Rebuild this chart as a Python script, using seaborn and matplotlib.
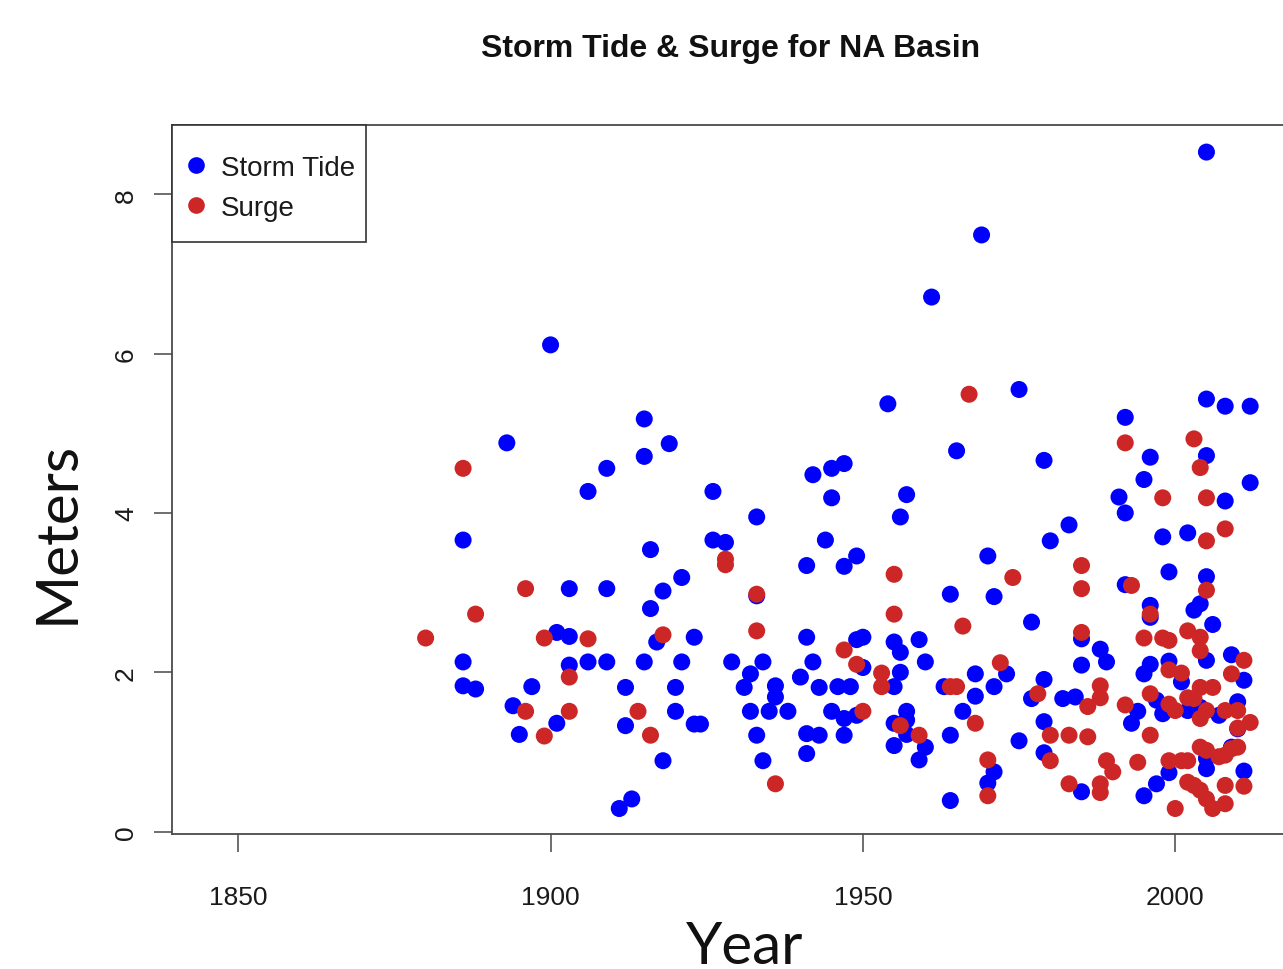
import numpy as np
import pandas as pd
import matplotlib
matplotlib.use("Agg")
import matplotlib.pyplot as plt
from matplotlib.lines import Line2D
from matplotlib.patches import Rectangle
import seaborn as sns

# ---------------- data ----------------
tide_year = [1886, 1886, 1886, 1888, 1893, 1894, 1895, 1897, 1900, 1901, 1901, 1903, 1903, 1903,
             1906, 1906, 1909, 1909, 1909, 1911,
             1915, 1919, 1915, 1926, 1933, 1942, 1926, 1928, 1916, 1941, 1921, 1918, 1916, 1933,
             1917, 1923, 1941, 1915, 1921, 1929, 1934, 1942, 1932, 1931, 1936, 1936, 1940, 1943,
             1912, 1920, 1920, 1932, 1935, 1938, 1912, 1923, 1924, 1933, 1941, 1943, 1941, 1918,
             1934, 1913,
             1969, 1961, 1954, 1965, 1945, 1947, 1945, 1957, 1956, 1944, 1970, 1949, 1947, 1964,
             1971, 1949, 1950, 1955, 1956, 1959, 1960, 1956, 1968, 1950, 1946, 1948, 1955, 1963,
             1971, 1968, 1945, 1947, 1949, 1955, 1957, 1957, 1966, 1947, 1955, 1957, 1960, 1959,
             1964, 1971, 1970, 1964,
             1975, 1992, 1979, 1991, 1992, 1983, 1980, 1977, 1992, 1985, 1988, 1989, 1985, 1973,
             1979, 1977, 1982, 1984, 1979, 1993, 1975, 1979, 1985,
             2005, 2008, 2012, 2005, 1996, 1995, 2012, 2008, 1998, 2002, 1999, 2005, 1996, 1996,
             2003, 2004, 2006, 2005, 2009, 2011, 1996, 1995, 1999, 2001, 1997, 1998, 1994, 2002,
             2004, 2007, 2010, 2010, 2009, 2005, 2005, 1999, 2011, 1997, 1995, 2005]
tide_m = [3.66, 2.13, 1.83, 1.79, 4.88, 1.58, 1.22, 1.82, 6.11, 2.50, 1.36, 2.45, 2.09, 3.05,
          2.13, 4.27, 4.56, 3.05, 2.13, 0.29,
          5.18, 4.87, 4.71, 4.27, 3.95, 4.48, 3.66, 3.63, 3.54, 3.34, 3.19, 3.02, 2.80, 2.96,
          2.38, 2.44, 2.44, 2.13, 2.13, 2.13, 2.13, 2.13, 1.98, 1.81, 1.83, 1.69, 1.94, 1.81,
          1.81, 1.81, 1.51, 1.51, 1.51, 1.51, 1.33, 1.35, 1.35, 1.21, 1.23, 1.21, 0.98, 0.89,
          0.89, 0.41,
          7.49, 6.71, 5.37, 4.78, 4.56, 4.62, 4.19, 4.23, 3.95, 3.66, 3.46, 3.46, 3.33, 2.98,
          2.95, 2.41, 2.44, 2.38, 2.25, 2.41, 2.13, 2.00, 1.98, 2.06, 1.82, 1.82, 1.82, 1.82,
          1.82, 1.70, 1.51, 1.42, 1.46, 1.36, 1.51, 1.40, 1.51, 1.21, 1.08, 1.22, 1.06, 0.90,
          1.21, 0.75, 0.61, 0.39,
          5.55, 5.20, 4.66, 4.20, 4.00, 3.85, 3.65, 2.63, 3.10, 2.42, 2.29, 2.13, 2.09, 1.98,
          1.91, 1.67, 1.67, 1.69, 1.38, 1.36, 1.14, 0.99, 0.50,
          5.43, 5.34, 5.34, 4.72, 4.70, 4.42, 4.38, 4.15, 3.70, 3.75, 3.26, 3.20, 2.84, 2.69,
          2.78, 2.86, 2.60, 2.15, 2.22, 1.90, 2.10, 1.98, 2.14, 1.88, 1.65, 1.48, 1.51, 1.52,
          1.56, 1.46, 1.63, 1.29, 1.06, 0.92, 0.79, 0.74, 0.76, 0.60, 0.45, 8.53]

surge_year = [1880, 1886, 1888, 1896, 1899, 1906, 1903, 1896, 1903, 1899,
              1928, 1928, 1933, 1933, 1918, 1914, 1916, 1936,
              1967, 1955, 1955, 1966, 1947, 1949, 1953, 1953, 1964, 1965, 1972, 1950, 1956,
              1959, 1968, 1970, 1970,
              1992, 1985, 1985, 1974, 1993, 1985, 1978, 1988, 1988, 1986, 1992, 1980, 1983,
              1986, 1980, 1989, 1990, 1983, 1988, 1988,
              2003, 2004, 1998, 2005, 2008, 2005, 2005, 1996, 2002, 1998, 1999, 1995, 2004,
              2004, 2011, 1999, 2001, 2009, 1996, 1999, 2000, 2002, 2003, 2004, 2006, 2004,
              2005, 2008, 2010, 2010, 2012, 1996, 2004, 2005, 2007, 2008, 2009, 2010, 1994,
              1999, 2001, 2002, 2002, 2003, 2004, 2005, 2006, 2008, 2008, 2011, 2000]
surge_m = [2.43, 4.56, 2.73, 3.05, 2.43, 2.42, 1.94, 1.51, 1.51, 1.20,
           3.42, 3.35, 2.98, 2.52, 2.47, 1.51, 1.21, 0.60,
           5.49, 3.23, 2.73, 2.58, 2.28, 2.10, 1.99, 1.82, 1.82, 1.82, 2.12, 1.51, 1.33,
           1.21, 1.36, 0.90, 0.45,
           4.88, 3.34, 3.05, 3.19, 3.09, 2.50, 1.73, 1.83, 1.68, 1.57, 1.59, 1.21, 1.21,
           1.19, 0.89, 0.89, 0.75, 0.60, 0.60, 0.49,
           4.93, 4.57, 4.19, 4.19, 3.80, 3.65, 3.03, 2.73, 2.52, 2.43, 2.40, 2.43, 2.44,
           2.27, 2.15, 2.03, 1.99, 1.98, 1.73, 1.60, 1.52, 1.68, 1.67, 1.81, 1.81, 1.42,
           1.52, 1.52, 1.52, 1.30, 1.37, 1.21, 1.06, 1.02, 0.94, 0.96, 1.04, 1.06, 0.87,
           0.89, 0.89, 0.89, 0.62, 0.58, 0.52, 0.41, 0.29, 0.58, 0.35, 0.57, 0.29]

series_names = ["Storm Tide", "Surge"]
series_colors = ["#0000FF", "#CD2626"]
x_ticks = [1850, 1900, 1950, 2000]
y_ticks = [0, 2, 4, 6, 8]

df = pd.DataFrame({
    "Year": tide_year + surge_year,
    "Meters": tide_m + surge_m,
    "Series": [series_names[0]] * len(tide_year) + [series_names[1]] * len(surge_year),
})

# ---------------- figure ----------------
W, H = 1283, 970
sns.set_theme(style="white")
plt.rcParams["font.family"] = ["Liberation Sans", "DejaVu Sans"]

fig = plt.figure(figsize=(W / 100, H / 100), dpi=100)
ax = fig.add_axes([172 / W, 1 - 835 / H, 0.872, (835 - 126) / H])

sns.scatterplot(data=df, x="Year", y="Meters", hue="Series",
                palette=dict(zip(series_names, series_colors)),
                hue_order=series_names, s=150, linewidth=0, ax=ax, legend=False)

ax.set_xlim(1839.4, 2018.5)
ax.set_ylim(-0.03, 8.87)
ax.set_xticks(x_ticks)
ax.set_yticks(y_ticks)
ax.set_xticklabels([str(t) for t in x_ticks], fontsize=19, color="#1a1a1a")
ax.set_yticklabels([str(t) for t in y_ticks], fontsize=19, rotation=90, va="center",
                   color="#1a1a1a")
ax.tick_params(axis="x", direction="out", length=13, width=1.2, color="#555555", pad=24,
               bottom=True)
ax.tick_params(axis="y", direction="out", length=13, width=1.2, color="#555555", pad=11.5,
               left=True)
ax.set_xlabel("")
ax.set_ylabel("")

for side in ["left", "top", "bottom"]:
    ax.spines[side].set_visible(True)
    ax.spines[side].set_color("#4a4a4a")
    ax.spines[side].set_linewidth(1.3)
ax.spines["right"].set_visible(False)

# legend box (drawn separately so the padding matches the reference)
box = Rectangle((172 / W, 1 - 243 / H), 194 / W, 117 / H, transform=fig.transFigure,
                facecolor="white", edgecolor="#333333", linewidth=1.2, zorder=5)
fig.patches.append(box)

handles = [Line2D([0], [0], marker="o", linestyle="", markersize=12,
                  markerfacecolor=c, markeredgewidth=0) for c in series_colors]
leg = fig.legend(handles, series_names, loc="upper left",
                 bbox_to_anchor=(187.5 / W, 1 - 156 / H), bbox_transform=fig.transFigure,
                 frameon=False, fontsize=20, borderpad=0, borderaxespad=0,
                 handlelength=0.6, handletextpad=0.6, labelspacing=0.5)
for t in leg.get_texts():
    t.set_color("#1a1a1a")
leg.set_zorder(6)

# titles / labels
fig.text(731 / W, 1 - 49 / H, "Storm Tide & Surge for NA Basin", ha="center",
         va="center", fontsize=23, fontweight="bold", color="#111111")
fig.text(745 / W, 1 - 964 / H, "Year", ha="center", va="baseline", fontsize=42,
         family=["Lato", "DejaVu Sans"], color="#111111")
fig.text(57 / W, 1 - 532 / H, "Meters", ha="center", va="center", rotation=90,
         fontsize=42, family=["Lato", "DejaVu Sans"], color="#111111")

fig.savefig("out.png", dpi=100)
